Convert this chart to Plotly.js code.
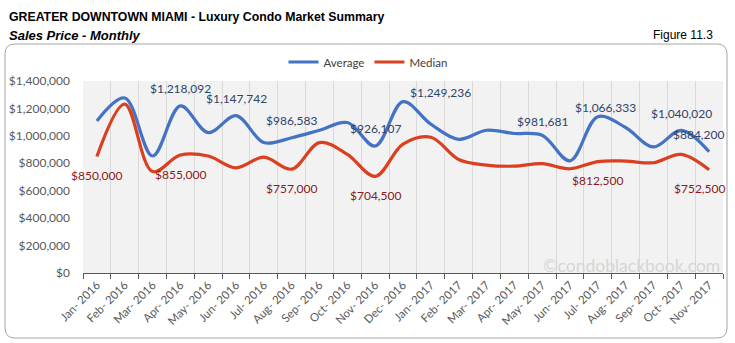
<!DOCTYPE html>
<html>
<head>
<meta charset="utf-8">
<script src="https://cdn.plot.ly/plotly-3.0.1.min.js"></script>
<style>
html,body{margin:0;padding:0;background:#fff;}
#chart{width:735px;height:343px;}
</style>
</head>
<body>
<div id="chart"></div>
<script>
// ---- data ----
const months = ['Jan- 2016','Feb- 2016','Mar- 2016','Apr- 2016','May- 2016','Jun- 2016','Jul- 2016','Aug- 2016','Sep- 2016','Oct- 2016','Nov- 2016','Dec- 2016',
                'Jan- 2017','Feb- 2017','Mar- 2017','Apr- 2017','May- 2017','Jun- 2017','Jul- 2017','Aug- 2017','Sep- 2017','Oct- 2017','Nov- 2017'];
const average = [1109000,1276000,853000,1218092,1024000,1147742,951000,986583,1041000,1097000,926107,1249236,
                 1085000,975000,1041000,1017000,1005000,818000,1140000,1061000,919000,1040020,884200];
const median = [850000,1232000,740000,860000,853000,767000,845000,757000,951000,865000,704500,940000,
                990000,828000,787000,779000,797000,760000,812500,816000,804000,865000,752500];
const averageLabels = ['','','','$1,218,092','','$1,147,742','','$986,583','','','$926,107','$1,249,236',
                       '','','','','$981,681','','$1,066,333','','','$1,040,020','$884,200'];
const medianLabels = ['$850,000','','','$855,000','','','','$757,000','','','$704,500','',
                      '','','','','','','$812,500','','','','$752,500'];

// ---- label placement (style only) ----
const avgShiftX = {11:37, 18:8, 22:-11};
const avgShiftY = {11:9, 18:9, 16:14, 22:17};
const medShiftX = {22:-10};

// plot area in pixels: left 83, right 723, top 81, bottom 273
const L=83, R=723, T=81, B=273;
const W=R-L, H=B-T;
const px = x => (x-L)/W;
const py = y => (B-y)/H;

const annotations = [];
averageLabels.forEach((t,i)=>{
  if(!t) return;
  annotations.push({x:i, y:average[i], xref:'x', yref:'y', text:t, showarrow:false,
    xanchor:'center', yanchor:'middle', xshift:avgShiftX[i]||0, yshift:(avgShiftY[i]!==undefined?avgShiftY[i]:17),
    font:{family:'Lato, sans-serif', size:12, color:'#2f4468'}});
});
medianLabels.forEach((t,i)=>{
  if(!t) return;
  annotations.push({x:i, y:median[i], xref:'x', yref:'y', text:t, showarrow:false,
    xanchor:'center', yanchor:'middle', xshift:medShiftX[i]||0, yshift:-19,
    font:{family:'Lato, sans-serif', size:12, color:'#8b1a1a'}});
});
// titles
annotations.push({xref:'paper', yref:'paper', x:px(7), y:py(17), xanchor:'left', yanchor:'middle', showarrow:false,
  text:'<b>GREATER DOWNTOWN MIAMI - Luxury Condo Market Summary</b>',
  font:{family:'Arial, Liberation Sans, sans-serif', size:12.3, color:'#000'}});
annotations.push({xref:'paper', yref:'paper', x:px(7), y:py(35), xanchor:'left', yanchor:'middle', showarrow:false,
  text:'<b><i>Sales Price - Monthly</i></b>',
  font:{family:'Arial, Liberation Sans, sans-serif', size:13, color:'#000'}});
annotations.push({xref:'paper', yref:'paper', x:px(715), y:py(35), xanchor:'right', yanchor:'middle', showarrow:false,
  text:'Figure 11.3',
  font:{family:'Arial, Liberation Sans, sans-serif', size:12, color:'#000'}});
annotations.push({xref:'paper', yref:'paper', x:px(722), y:py(265), xanchor:'right', yanchor:'middle', showarrow:false,
  text:'©condoblackbook.com',
  font:{family:'Lato, sans-serif', size:17.5, color:'#d6d6d6'}});

// rounded border
const bx0=px(5), bx1=px(727), by0=py(338), by1=py(44);
const rx=10/W, ry=10/H;
const borderPath = `M ${bx0+rx},${by1} L ${bx1-rx},${by1} Q ${bx1},${by1} ${bx1},${by1-ry} L ${bx1},${by0+ry} Q ${bx1},${by0} ${bx1-rx},${by0} L ${bx0+rx},${by0} Q ${bx0},${by0} ${bx0},${by0+ry} L ${bx0},${by1-ry} Q ${bx0},${by1} ${bx0+rx},${by1} Z`;

const traces = [
  {x:months, y:average, name:'Average', type:'scatter', mode:'lines',
   line:{color:'#4472c4', width:3.2, shape:'spline', smoothing:1}},
  {x:months, y:median, name:'Median', type:'scatter', mode:'lines',
   line:{color:'#da4020', width:3.2, shape:'spline', smoothing:1}}
];

const layout = {
  width:735, height:343,
  margin:{l:L, r:735-R, t:T, b:343-B, pad:0, autoexpand:false},
  paper_bgcolor:'#ffffff', plot_bgcolor:'#f2f2f2',
  showlegend:true,
  legend:{orientation:'h', x:px(368), xanchor:'center', y:py(62), yanchor:'middle',
    font:{family:'Lato, sans-serif', size:11.5, color:'#404040'}, bgcolor:'rgba(0,0,0,0)', itemwidth:30, tracegroupgap:0},
  xaxis:{type:'category', range:[-0.5, 22.5], autorange:false, tickson:'boundaries', showgrid:true, gridcolor:'#d9d9d9', gridwidth:1, automargin:false,
    showline:true, linecolor:'#595959', linewidth:1, ticks:'outside', ticklen:5, tickcolor:'#595959',
    tickangle:-45, tickfont:{family:'Lato, sans-serif', size:11.5, color:'#595959'}, zeroline:false, fixedrange:true},
  yaxis:{range:[0,1400000], autorange:false, dtick:200000, tickprefix:'$', tickformat:',d', showgrid:false, zeroline:false, automargin:false,
    showline:false, ticks:'', ticklabelstandoff:12, tickfont:{family:'Lato, sans-serif', size:12, color:'#595959'}, fixedrange:true},
  annotations:annotations,
  shapes:[{type:'path', xref:'paper', yref:'paper', path:borderPath, line:{color:'#a6a6a6', width:1}, layer:'below'}]
};

Plotly.newPlot('chart', traces, layout, {displayModeBar:false, staticPlot:true});
</script>
</body>
</html>
